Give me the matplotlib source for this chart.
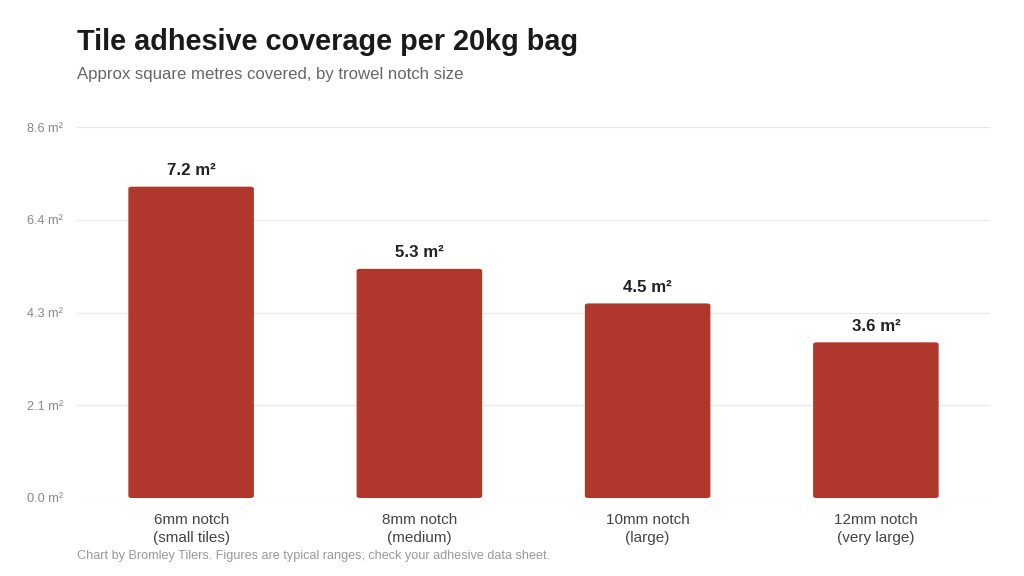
import numpy as np
import matplotlib
matplotlib.use("Agg")
import matplotlib.pyplot as plt
from matplotlib.patches import FancyBboxPatch

plt.rcParams['font.family'] = ['Liberation Sans', 'DejaVu Sans']

categories = ["6mm notch\n(small tiles)", "8mm notch\n(medium)",
              "10mm notch\n(large)", "12mm notch\n(very large)"]
coverage = [7.2, 5.3, 4.5, 3.6]
y_max = 8.58
y_ticks = np.linspace(0, y_max, 5)

bar_color = "#b0372b"

fig = plt.figure(figsize=(10.24, 5.76), dpi=100)
ax = fig.add_axes([77 / 1024, 1 - 498 / 576, (990 - 77) / 1024, (498 - 127) / 576])

x = np.arange(len(categories))
bars = ax.bar(x, coverage, width=0.55, color=bar_color, zorder=3)

# swap plain rectangles for slightly rounded ones
for b in bars:
    b.set_visible(False)
    p = FancyBboxPatch((b.get_x(), b.get_y()), b.get_width(), b.get_height(),
                       boxstyle="round,pad=0,rounding_size=0.015",
                       mutation_aspect=y_max / 4 * 0.55 * 913 / 371 / 1.0,
                       facecolor=bar_color, edgecolor="none", zorder=3)
    ax.add_patch(p)

for xi, v in zip(x, coverage):
    ax.text(xi, v + 0.2, f"{v:.1f} m²", ha="center", va="bottom",
            fontsize=12.2, fontweight="bold", color="#222222")

ax.set_xlim(-0.5, len(categories) - 0.5)
ax.set_ylim(0, y_max)
ax.set_yticks(y_ticks)
ax.set_yticklabels([f"{t:.1f} m²" for t in y_ticks], fontsize=9.2, color="#888888")
ax.set_xticks(x)
ax.set_xticklabels(categories, fontsize=11, color="#444444", linespacing=1.3)
ax.tick_params(axis="both", length=0)
ax.tick_params(axis="y", pad=10)
ax.tick_params(axis="x", pad=11)
ax.grid(axis="y", color="#e8e8e8", linewidth=0.9, zorder=0)
for s in ax.spines.values():
    s.set_visible(False)

fig.text(77 / 1024, 1 - 42 / 576, "Tile adhesive coverage per 20kg bag",
         fontsize=20.8, fontweight="bold", color="#1a1a1a", va="center")
fig.text(77 / 1024, 1 - 75 / 576, "Approx square metres covered, by trowel notch size",
         fontsize=12.1, color="#666666", va="center")
fig.text(77 / 1024, 1 - 556 / 576,
         "Chart by Bromley Tilers. Figures are typical ranges; check your adhesive data sheet.",
         fontsize=9.1, color="#999999", va="center")

fig.savefig("out.png", dpi=100)
